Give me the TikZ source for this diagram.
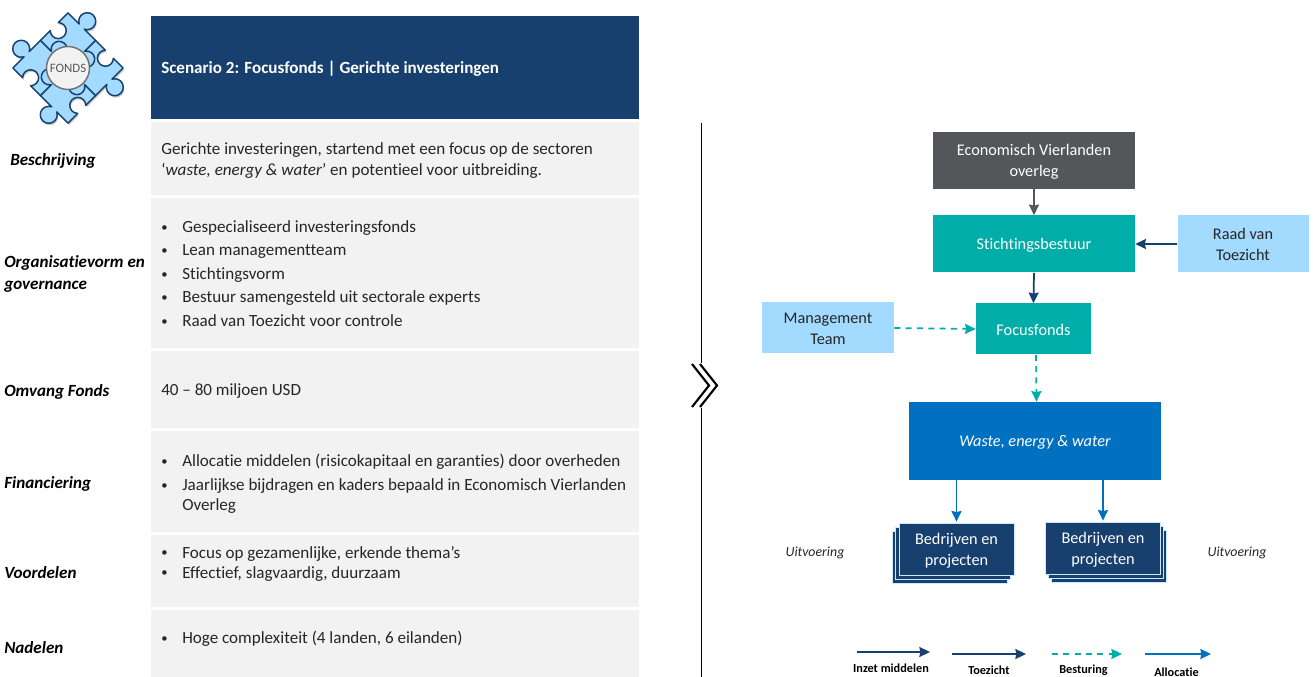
\documentclass[tikz,border=0pt]{standalone}
\usepackage{fontspec}
\setmainfont[Ligatures=NoCommon]{Carlito}
\usetikzlibrary{arrows.meta}
\definecolor{navy}{HTML}{17406F}
\definecolor{rowgray}{HTML}{F2F2F2}
\definecolor{darkgray}{HTML}{54565A}
\definecolor{teal}{HTML}{00ADA8}
\definecolor{sky}{HTML}{A3DAFF}
\definecolor{blue}{HTML}{0070C0}
\definecolor{textc}{HTML}{262626}
\newlength{\pxu}\setlength{\pxu}{0.75pt}
\newcommand{\bul}{\makebox[21\pxu][l]{\raisebox{0.8pt}{\fontsize{9.5pt}{9.5pt}\selectfont•}}}
\newcommand{\pieceopen}{(0,0) -- (15.5,0) arc[start angle=120,end angle=420,radius=8] -- (39,0) -- (39,15.9) arc[start angle=-155,end angle=155,radius=8.5] -- (39,39) -- (25.2,39) arc[start angle=45,end angle=-225,radius=8] -- (0,39)}
\tikzset{
  rowbox/.style={draw=none,fill=rowgray,minimum width=488\pxu,anchor=north west,inner sep=0pt},
  rowlabel/.style={font=\fontsize{12.8pt}{16pt}\selectfont\bfseries\itshape,text=black,align=left,anchor=west,inner sep=0pt},
  rowtext/.style={font=\fontsize{12.8pt}{17.7pt}\selectfont,text=textc,align=left,anchor=west,inner sep=0pt},
  box/.style={font=\fontsize{12.2pt}{15.8pt}\selectfont,align=center,inner sep=0pt,text=white,execute at begin node={\rule{0pt}{10pt}}},
  boxtwo/.style={font=\fontsize{12.2pt}{15.8pt}\selectfont,align=center,inner sep=0pt,text=white,text height=27.6pt,text depth=3pt},
  skybox/.style={boxtwo,fill=sky,text=textc},
  stacksheet/.style={fill=navy,draw=sky!60,line width=0.5pt,minimum width=115\pxu,minimum height=52\pxu,inner sep=0pt},
  arrowbase/.style={line width=1.3pt,-{Stealth[length=8pt,width=7.5pt,inset=0.8pt]}},
  navyarrow/.style={arrowbase,draw=navy},
  grayarrow/.style={arrowbase,draw=darkgray},
  tealarrow/.style={arrowbase,draw=teal,dash pattern=on 4.5pt off 4pt},
  bluearrow/.style={arrowbase,draw=blue},
  legendlabel/.style={font=\fontsize{9.2pt}{11pt}\selectfont\bfseries,text=black,inner sep=0pt},
  sidelabel/.style={font=\fontsize{10.4pt}{12pt}\selectfont\itshape,text=textc,inner sep=0pt},
  puzzlefill/.style={fill=sky,draw=none},
  puzzleshadow/.style={fill=black!22,draw=none},
  puzzleline/.style={draw=navy,line width=1.1pt,line join=round,fill=none},
}
\begin{document}
\begin{tikzpicture}[x=0.75pt,y=-0.75pt]
\useasboundingbox (0,0) rectangle (1315,677);
% puzzle logo
\foreach \ang in {0,90,180,270}{
  \begin{scope}[shift={(69,70)},x=0.75pt,y=0.75pt,rotate=45+\ang]
    \fill[puzzleshadow] \pieceopen -- cycle;
  \end{scope}
}
\foreach \ang in {0,90,180,270}{
  \begin{scope}[shift={(68,68)},x=0.75pt,y=0.75pt,rotate=45+\ang]
    \fill[puzzlefill] \pieceopen -- cycle;
  \end{scope}
}
\foreach \ang in {0,90,180,270}{
  \begin{scope}[shift={(68,68)},x=0.75pt,y=0.75pt,rotate=45+\ang]
    \draw[puzzleline] \pieceopen;
  \end{scope}
}
\node[circle,fill=rowgray,draw=black!55,line width=1.1pt,minimum size=43\pxu,inner sep=0pt,font=\fontsize{9.6pt}{11pt}\selectfont,text=black!65] (fonds) at (68,68) {FONDS};
% table
\node[rowbox,fill=navy,minimum height=103\pxu] (hdr) at (151,16) {};
\node[anchor=west,inner sep=0pt,font=\fontsize{12.8pt}{15pt}\selectfont\bfseries,text=white] (hdrtext) at (161,68.5) {Scenario 2: Focusfonds | Gerichte investeringen};
\node[rowbox,minimum height=73\pxu] (r1) at (151,122) {};
\node[rowbox,minimum height=150\pxu] (r2) at (151,198) {};
\node[rowbox,minimum height=77\pxu] (r3) at (151,351) {};
\node[rowbox,minimum height=101\pxu] (r4) at (151,431) {};
\node[rowbox,minimum height=72\pxu] (r5) at (151,535) {};
\node[rowbox,minimum height=67\pxu] (r6) at (151,610) {};
\node[rowlabel] (l1) at (10,160.5) {Beschrijving};
\node[rowlabel] (l2) at (4,274) {Organisatievorm en\\governance};
\node[rowlabel] (l3) at (4,391.5) {Omvang Fonds};
\node[rowlabel] (l4) at (4,483.5) {Financiering};
\node[rowlabel] (l5) at (4,572.5) {Voordelen};
\node[rowlabel] (l6) at (4,647.5) {Nadelen};
\node[rowtext,font=\fontsize{12.8pt}{15.6pt}\selectfont] (t1) at (161,160.5) {Gerichte investeringen, startend met een focus op de sectoren\\‘\textit{waste, energy \& water}’ en potentieel voor uitbreiding.};
\node[rowtext] (t2) at (161,273.5) {\bul Gespecialiseerd investeringsfonds\\\bul Lean managementteam\\\bul Stichtingsvorm\\\bul Bestuur samengesteld uit sectorale experts\\\bul Raad van Toezicht voor controle};
\node[rowtext] (t3) at (161,391.5) {40 – 80 miljoen USD};
\node[rowtext] (t4) at (161,484) {\bul Allocatie middelen (risicokapitaal en garanties) door overheden\\\bul Jaarlijkse bijdragen en kaders bepaald in Economisch Vierlanden\\[-2.2pt]\hspace*{21\pxu}Overleg};
\node[rowtext,font=\fontsize{12.8pt}{15pt}\selectfont] (t5) at (161,563.5) {\bul Focus op gezamenlijke, erkende thema’s\\\bul Effectief, slagvaardig, duurzaam};
\node[rowtext] (t6) at (161,638.5) {\bul Hoge complexiteit (4 landen, 6 eilanden)};
% divider and chevrons
\coordinate (divtop) at (701.5,123);
\coordinate (divmid1) at (701.5,363);
\coordinate (divmid2) at (701.5,408);
\coordinate (divbot) at (701.5,677);
\draw[black,line width=0.9pt] (divtop) -- (divmid1) (divmid2) -- (divbot);
\coordinate (c1a) at (692,364); \coordinate (c1b) at (709,385.5); \coordinate (c1c) at (692,407);
\coordinate (c2a) at (700,364); \coordinate (c2b) at (717,385.5); \coordinate (c2c) at (700,407);
\draw[black,line width=1.6pt] (c1a) -- (c1b) -- (c1c);
\draw[black,line width=1.6pt] (c2a) -- (c2b) -- (c2c);
% org chart
\node[boxtwo,fill=darkgray,minimum width=202\pxu,minimum height=57\pxu] (evo) at (1034,160.5) {Economisch Vierlanden\\overleg};
\node[box,fill=teal,minimum width=202\pxu,minimum height=57\pxu] (sb) at (1034,244) {Stichtingsbestuur};
\node[skybox,minimum width=131\pxu,minimum height=57\pxu] (rvt) at (1243,244) {Raad van\\Toezicht};
\node[box,fill=teal,minimum width=115\pxu,minimum height=51\pxu] (ff) at (1033.5,329) {Focusfonds};
\node[skybox,minimum width=132\pxu,minimum height=51\pxu] (mt) at (828,328) {Management\\Team};
\node[box,fill=blue,minimum width=252\pxu,minimum height=78\pxu,font=\fontsize{12.2pt}{16pt}\selectfont\itshape] (wew) at (1035,441) {Waste, energy \& water};
% stacks
\node[stacksheet] (s1c) at (949.5,557) {};
\node[stacksheet] (s1b) at (953,553) {};
\node[stacksheet,boxtwo,fill=navy] (s1) at (956.5,549.5) {Bedrijven en\\projecten};
\node[stacksheet] (s2c) at (1109,556) {};
\node[stacksheet] (s2b) at (1106,552) {};
\node[stacksheet,boxtwo,fill=navy] (s2) at (1103,548.5) {Bedrijven en\\projecten};
\node[sidelabel] (u1) at (815,553) {Uitvoering};
\node[sidelabel] (u2) at (1237,553) {Uitvoering};
% connectors
\draw[grayarrow] (evo.south) -- (sb.north);
\draw[navyarrow] (rvt.west) -- (sb.east);
\draw[navyarrow] (sb.south) -- (ff.north);
\draw[tealarrow] (mt.east) -- (ff.west);
\draw[tealarrow] ([xshift=2.5\pxu]ff.south) -- ([xshift=1.5\pxu]wew.north);
\draw[bluearrow] (s1.north |- wew.south) -- ([yshift=1.5\pxu]s1.north);
\draw[bluearrow] (s2.north |- wew.south) -- ([yshift=1.5\pxu]s2.north);
% legend
\coordinate (a1s) at (857,652); \coordinate (a1e) at (930,652);
\coordinate (a2s) at (952,654); \coordinate (a2e) at (1026,654);
\coordinate (a3s) at (1052,654); \coordinate (a3e) at (1122,654);
\coordinate (a4s) at (1145,654); \coordinate (a4e) at (1211,654);
\draw[navyarrow] (a1s) -- (a1e);
\draw[navyarrow] (a2s) -- (a2e);
\draw[tealarrow] (a3s) -- (a3e);
\draw[bluearrow] (a4s) -- (a4e);
\node[legendlabel] (k1) at (891,668) {Inzet middelen};
\node[legendlabel] (k2) at (989,670.5) {Toezicht};
\node[legendlabel] (k3) at (1083.5,670) {Besturing};
\node[legendlabel] (k4) at (1176.5,672) {Allocatie};
\end{tikzpicture}
\end{document}
